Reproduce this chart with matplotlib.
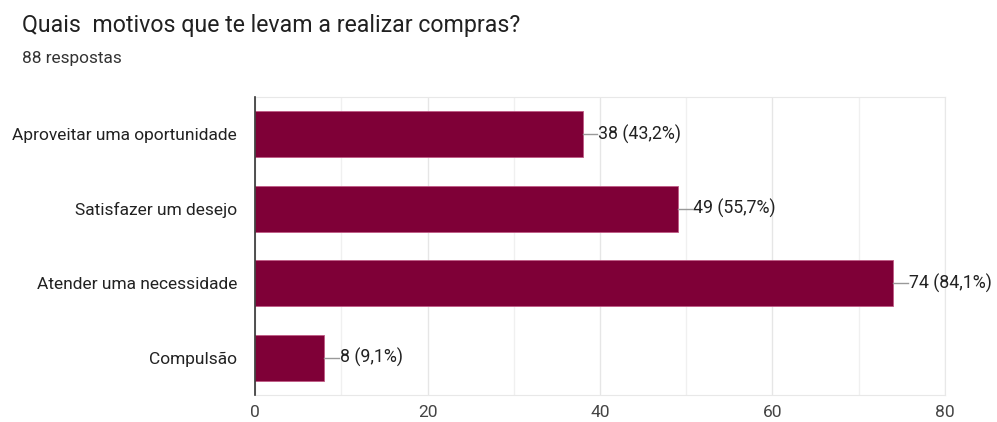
import matplotlib.pyplot as plt
import numpy as np

plt.rcParams['font.family'] = ['Roboto', 'DejaVu Sans']

motivos = ['Aproveitar uma oportunidade', 'Satisfazer um desejo',
           'Atender uma necessidade', 'Compulsão']
contagens = [38, 49, 74, 8]
percentuais = ['43,2%', '55,7%', '84,1%', '9,1%']
total_respostas = 88
ticks_x = [0, 20, 40, 60, 80]

cor_barra = '#7f0037'
cor_texto = '#222222'

fig = plt.figure(figsize=(9.97, 4.22), dpi=100)
ax = fig.add_axes([0.2558, 0.064, 0.6920, 0.706])

y = np.arange(len(motivos))
ax.barh(y, contagens, height=0.62, color=cor_barra, edgecolor='#c05a85', linewidth=0.6, zorder=3)

# rótulos com um pequeno traço ligando a barra ao texto
for yi, c, p in zip(y, contagens, percentuais):
    ax.plot([c, c + 1.7], [yi, yi], color='#999999', lw=1, zorder=3, clip_on=False)
    ax.text(c + 1.8, yi, f'{c} ({p})', va='center', ha='left', fontsize=12.8,
            color=cor_texto, zorder=4)

ax.set_xlim(0, 80)
ax.set_ylim(len(motivos) - 0.5, -0.5)
ax.set_yticks(y)
ax.set_yticklabels(motivos, fontsize=12.5, color=cor_texto)
ax.set_xticks(ticks_x)
ax.set_xticklabels([str(t) for t in ticks_x], fontsize=12.5, color='#444444')
ax.set_xticks(np.arange(10, 80, 20), minor=True)
ax.tick_params(axis='both', which='both', length=0)
ax.tick_params(axis='y', pad=13)
ax.tick_params(axis='x', pad=7)

ax.grid(axis='x', which='major', color='#e6e6e6', lw=1, zorder=0)
ax.grid(axis='x', which='minor', color='#f0f0f0', lw=1, zorder=0)

for lado in ['top', 'right', 'bottom']:
    ax.spines[lado].set_color('#e8e8e8')
ax.spines['left'].set_color('#333333')
ax.spines['left'].set_linewidth(1.2)
ax.spines['left'].set_zorder(5)

fig.text(0.022, 0.94, 'Quais  motivos que te levam a realizar compras?', fontsize=16.7,
         color='#212121', va='center')
fig.text(0.022, 0.862, f'{total_respostas} respostas', fontsize=12.4, color='#333333', va='center')

fig.savefig('out.png', dpi=100)
